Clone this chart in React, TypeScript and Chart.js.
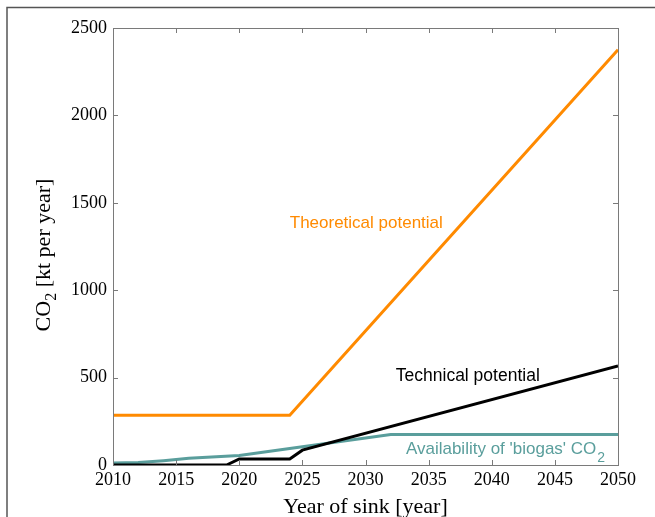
import React, { useEffect, useRef } from "react";
import { Chart, registerables } from "chart.js";

Chart.register(...registerables);

const theoreticalYears = [2010, 2024, 2050];
const theoreticalValues = [285, 285, 2375];

const technicalYears = [2010, 2019, 2020, 2024, 2025, 2050];
const technicalValues = [0, 0, 35, 35, 85, 566];

const biogasYears = [2010, 2012, 2014, 2016, 2020, 2025, 2028, 2032, 2050];
const biogasValues = [12, 15, 25, 38, 55, 105, 135, 175, 175];

const xTicks = [2010, 2015, 2020, 2025, 2030, 2035, 2040, 2045, 2050];
const yTicks = [0, 500, 1000, 1500, 2000, 2500];

const ORANGE = "#ff8a00";
const TEAL = "#5a9e9c";

const toPoints = (xs: number[], ys: number[]) => xs.map((x, i) => ({ x, y: ys[i] }));

const SERIF = "'Liberation Serif', 'Times New Roman', serif";
const SANS = "'Liberation Sans', Arial, sans-serif";

const decorPlugin = {
  id: "decor",
  afterDraw(chart: any) {
    const { ctx, chartArea: a, scales } = chart;
    const xs = scales.x;
    const ys = scales.y;
    ctx.save();
    ctx.strokeStyle = "#7a7a7a";
    ctx.lineWidth = 1;
    ctx.strokeRect(a.left + 0.5, a.top + 0.5, a.right - a.left, a.bottom - a.top);
    ctx.beginPath();
    xTicks.forEach((t) => {
      const px = Math.round(xs.getPixelForValue(t)) + 0.5;
      ctx.moveTo(px, a.bottom);
      ctx.lineTo(px, a.bottom - 5);
      ctx.moveTo(px, a.top);
      ctx.lineTo(px, a.top + 5);
    });
    yTicks.forEach((t) => {
      const py = Math.round(ys.getPixelForValue(t)) + 0.5;
      ctx.moveTo(a.left, py);
      ctx.lineTo(a.left + 5, py);
      ctx.moveTo(a.right, py);
      ctx.lineTo(a.right - 5, py);
    });
    ctx.stroke();

    ctx.textBaseline = "middle";
    ctx.textAlign = "left";
    ctx.font = `17px ${SANS}`;
    ctx.fillStyle = ORANGE;
    ctx.fillText("Theoretical potential", xs.getPixelForValue(2024.0), ys.getPixelForValue(1384));
    ctx.fillStyle = "#000";
    ctx.font = `17.5px ${SANS}`;
    ctx.fillText("Technical potential", xs.getPixelForValue(2032.4), ys.getPixelForValue(509));
    ctx.fillStyle = TEAL;
    const bx = xs.getPixelForValue(2033.2);
    const by = ys.getPixelForValue(91);
    const main = "Availability of 'biogas' CO";
    ctx.font = `17px ${SANS}`;
    ctx.fillText(main, bx, by);
    const w = ctx.measureText(main).width;
    ctx.font = `14px ${SANS}`;
    ctx.fillText("2", bx + w + 1, by + 9);

    ctx.fillStyle = "#000";
    ctx.font = `22px ${SERIF}`;
    ctx.textAlign = "center";
    ctx.textBaseline = "alphabetic";
    ctx.fillText("Year of sink [year]", (a.left + a.right) / 2, 513);

    ctx.translate(50, 255);
    ctx.rotate(-Math.PI / 2);
    ctx.textAlign = "left";
    const p1 = "CO";
    const p3 = " [kt per year]";
    ctx.font = `22px ${SERIF}`;
    const w1 = ctx.measureText(p1).width;
    const w3 = ctx.measureText(p3).width;
    ctx.font = `16px ${SERIF}`;
    const w2 = ctx.measureText("2").width;
    const total = w1 + w2 + w3;
    let cx = -total / 2;
    ctx.font = `22px ${SERIF}`;
    ctx.fillText(p1, cx, 0);
    cx += w1;
    ctx.font = `16px ${SERIF}`;
    ctx.fillText("2", cx, 6);
    cx += w2;
    ctx.font = `22px ${SERIF}`;
    ctx.fillText(p3, cx, 0);
    ctx.restore();

    ctx.save();
    ctx.strokeStyle = "#555";
    ctx.lineWidth = 1.5;
    ctx.beginPath();
    ctx.moveTo(7, 655);
    ctx.lineTo(7, 7.5);
    ctx.lineTo(655, 7.5);
    ctx.stroke();
    ctx.restore();
  },
};

export default function App() {
  const ref = useRef<HTMLCanvasElement | null>(null);
  useEffect(() => {
    if (!ref.current) return;
    const tickFont = { family: SERIF, size: 18 };
    const chart = new Chart(ref.current, {
      type: "line",
      data: {
        datasets: [
          {
            label: "Theoretical potential",
            data: toPoints(theoreticalYears, theoreticalValues),
            borderColor: ORANGE,
            borderWidth: 3,
            pointRadius: 0,
            tension: 0,
          },
          {
            label: "Technical potential",
            data: toPoints(technicalYears, technicalValues),
            borderColor: "#000",
            borderWidth: 3,
            pointRadius: 0,
            tension: 0,
          },
          {
            label: "Availability of 'biogas' CO2",
            data: toPoints(biogasYears, biogasValues),
            borderColor: TEAL,
            borderWidth: 3,
            pointRadius: 0,
            tension: 0,
          },
        ],
      },
      options: {
        animation: false,
        responsive: false,
        maintainAspectRatio: false,
        layout: { padding: { left: 0, top: 28, right: 37, bottom: 0 } },
        plugins: { legend: { display: false }, tooltip: { enabled: false } },
        scales: {
          x: {
            type: "linear",
            min: 2010,
            max: 2050,
            grid: { display: false, drawTicks: false, tickLength: 0 },
            border: { display: false },
            afterFit: (s: any) => {
              s.height = 52;
            },
            afterBuildTicks: (s: any) => {
              s.ticks = xTicks.map((v) => ({ value: v }));
            },
            ticks: {
              color: "#000",
              font: tickFont,
              padding: 4,
              maxRotation: 0,
              autoSkip: false,
              callback: (v: any) => String(v),
            },
          },
          y: {
            min: 0,
            max: 2500,
            grid: { display: false, drawTicks: false, tickLength: 0 },
            border: { display: false },
            afterFit: (s: any) => {
              s.width = 113;
            },
            afterBuildTicks: (s: any) => {
              s.ticks = yTicks.map((v) => ({ value: v }));
            },
            ticks: {
              color: "#000",
              font: tickFont,
              padding: 6,
              callback: (v: any) => String(v),
            },
          },
        },
      },
      plugins: [decorPlugin],
    });
    return () => chart.destroy();
  }, []);
  return (
    <div style={{ position: "fixed", left: 0, top: 0, width: 655, height: 517, background: "#fff" }}>
      <canvas ref={ref} width={655} height={517} style={{ width: 655, height: 517 }} />
    </div>
  );
}
